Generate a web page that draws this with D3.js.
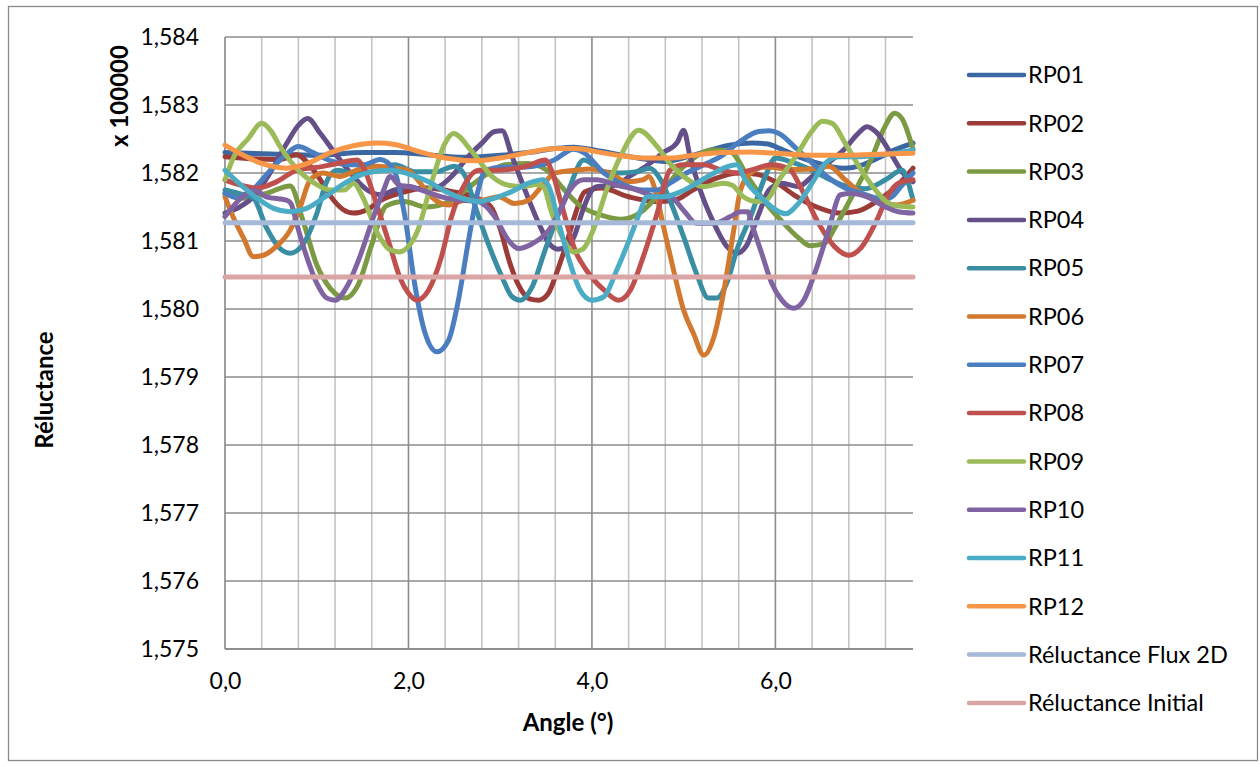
<!DOCTYPE html>
<html>
<head>
<meta charset="utf-8">
<script src="https://cdn.jsdelivr.net/npm/d3@7"></script>
<style>
  html, body { margin: 0; padding: 0; background: #fff; }
  svg { display: block; }
  text { font-family: Lato, "Open Sans", "Liberation Sans", sans-serif; fill: #000; }
</style>
</head>
<body>
<svg id="chart" width="1260" height="767"></svg>
<script>
// ---------------- DATA (values shown in units of x 100000) ----------------
const seriesNames = ["RP01","RP02","RP03","RP04","RP05","RP06","RP07","RP08","RP09","RP10","RP11","RP12","Réluctance Flux 2D","Réluctance Initial"];

const RP01 = [[0,1.5823],[0.5,1.58228],[1.0,1.58226],[1.5,1.5823],[1.85,1.5823],[2.2,1.58227],[2.6,1.58223],[3.0,1.58226],[3.3,1.5823],[3.6,1.58236],[3.8,1.58238],[4.1,1.58232],[4.5,1.58222],[4.8,1.58217],[5.05,1.58224],[5.3,1.58234],[5.5,1.58241],[5.75,1.58244],[5.9,1.58243],[6.05,1.58236],[6.25,1.58224],[6.45,1.58215],[6.75,1.58207],[6.95,1.58212],[7.15,1.58224],[7.3,1.58234],[7.5,1.58244]];
const RP02 = [[0,1.58224],[0.3,1.58221],[0.6,1.5822],[0.78,1.58227],[0.93,1.5821],[1.04,1.5819],[1.15,1.58166],[1.29,1.58146],[1.4,1.58141],[1.55,1.58146],[1.7,1.5816],[1.9,1.5817],[2.2,1.58178],[2.5,1.58172],[2.75,1.58163],[2.9,1.5815],[3.0,1.58118],[3.1,1.5807],[3.2,1.58035],[3.32,1.58015],[3.42,1.58013],[3.52,1.58022],[3.62,1.58055],[3.72,1.58095],[3.82,1.5814],[3.92,1.58172],[4.1,1.58178],[4.4,1.58165],[4.7,1.58158],[4.9,1.5816],[5.1,1.58175],[5.35,1.58192],[5.6,1.582],[5.8,1.58198],[6.0,1.58187],[6.2,1.58168],[6.45,1.5815],[6.7,1.58141],[6.9,1.58144],[7.1,1.58158],[7.3,1.58178],[7.5,1.58207]];
const RP03 = [[0,1.5817],[0.2,1.58163],[0.45,1.5817],[0.71,1.58181],[0.85,1.5813],[1.0,1.58065],[1.15,1.5803],[1.31,1.58016],[1.45,1.58035],[1.6,1.58095],[1.76,1.58152],[1.95,1.58158],[2.2,1.5815],[2.45,1.58158],[2.65,1.58178],[2.85,1.58198],[3.05,1.58212],[3.3,1.58214],[3.5,1.58205],[3.7,1.58175],[3.87,1.58152],[4.1,1.58138],[4.32,1.58132],[4.54,1.58143],[4.75,1.58172],[5.02,1.58212],[5.31,1.58234],[5.5,1.58232],[5.71,1.58192],[5.9,1.58155],[6.05,1.58132],[6.25,1.58105],[6.38,1.58093],[6.53,1.58096],[6.65,1.5812],[6.78,1.58152],[7.05,1.58222],[7.2,1.5827],[7.3,1.58288],[7.38,1.5828],[7.5,1.58235]];
const RP04 = [[0,1.58141],[0.16,1.5815],[0.31,1.58165],[0.49,1.582],[0.67,1.58243],[0.8,1.5827],[0.9,1.5828],[1.04,1.58258],[1.2,1.58229],[1.4,1.58195],[1.55,1.58175],[1.7,1.58168],[1.85,1.58175],[2.0,1.5818],[2.15,1.58176],[2.33,1.5818],[2.47,1.58195],[2.65,1.58224],[2.8,1.58244],[2.94,1.58261],[3.02,1.58262],[3.13,1.58224],[3.27,1.58175],[3.42,1.58126],[3.53,1.58097],[3.63,1.58088],[3.72,1.58092],[3.8,1.58105],[3.9,1.58145],[3.97,1.58168],[4.05,1.5818],[4.25,1.58182],[4.42,1.58196],[4.6,1.58211],[4.78,1.5823],[4.93,1.58245],[5.0,1.58263],[5.07,1.58224],[5.18,1.58175],[5.33,1.58126],[5.47,1.58092],[5.58,1.58082],[5.68,1.58092],[5.82,1.5814],[5.93,1.58175],[6.07,1.58185],[6.25,1.5818],[6.4,1.58195],[6.58,1.58215],[6.76,1.58236],[6.9,1.58258],[7.0,1.58268],[7.1,1.5826],[7.27,1.58226],[7.38,1.58202],[7.5,1.58187]];
const RP05 = [[0,1.58175],[0.15,1.5817],[0.31,1.58163],[0.45,1.5812],[0.6,1.58089],[0.71,1.58082],[0.85,1.58095],[1.0,1.5814],[1.1,1.58185],[1.22,1.58204],[1.4,1.582],[1.62,1.58202],[1.85,1.58212],[2.07,1.58202],[2.3,1.58202],[2.5,1.5821],[2.62,1.58195],[2.73,1.5815],[2.87,1.58096],[3.02,1.58047],[3.13,1.58018],[3.22,1.58013],[3.35,1.58033],[3.49,1.58087],[3.64,1.58141],[3.74,1.58173],[3.91,1.58219],[4.13,1.58202],[4.31,1.582],[4.49,1.58202],[4.63,1.58207],[4.74,1.58192],[4.85,1.5816],[5.0,1.58106],[5.14,1.58052],[5.27,1.58016],[5.36,1.58016],[5.47,1.58038],[5.58,1.58087],[5.73,1.58136],[5.89,1.58195],[6.0,1.58222],[6.18,1.58216],[6.4,1.58204],[6.6,1.5819],[6.76,1.58181],[6.98,1.58177],[7.2,1.5819],[7.38,1.58204],[7.45,1.58185],[7.5,1.5816]];
const RP06 = [[0,1.58165],[0.09,1.58135],[0.2,1.58105],[0.31,1.58077],[0.42,1.58079],[0.56,1.58092],[0.71,1.58116],[0.82,1.5815],[0.93,1.5819],[1.07,1.582],[1.25,1.58195],[1.45,1.58205],[1.65,1.5821],[1.85,1.58207],[2.0,1.58204],[2.1,1.5819],[2.25,1.58165],[2.44,1.58153],[2.62,1.5816],[2.8,1.5816],[2.98,1.58165],[3.16,1.58155],[3.31,1.5816],[3.45,1.5818],[3.6,1.582],[3.82,1.58204],[3.98,1.58206],[4.2,1.58199],[4.38,1.58187],[4.56,1.5819],[4.62,1.58195],[4.7,1.5817],[4.78,1.58121],[4.89,1.58057],[5.0,1.57998],[5.11,1.57963],[5.22,1.57932],[5.33,1.57959],[5.44,1.58028],[5.54,1.58111],[5.62,1.58175],[5.73,1.582],[5.9,1.58209],[6.04,1.58207],[6.25,1.58205],[6.45,1.58207],[6.58,1.5821],[6.76,1.5819],[6.94,1.5817],[7.13,1.5816],[7.31,1.58153],[7.5,1.5816]];
const RP07 = [[0,1.5817],[0.15,1.58163],[0.3,1.58175],[0.5,1.58205],[0.67,1.58228],[0.8,1.58239],[0.96,1.5823],[1.15,1.58218],[1.33,1.58212],[1.51,1.58212],[1.69,1.5822],[1.84,1.58205],[1.96,1.58137],[2.07,1.58035],[2.18,1.57965],[2.31,1.57937],[2.44,1.57955],[2.54,1.5801],[2.65,1.58097],[2.76,1.58175],[2.84,1.58204],[3.02,1.58209],[3.2,1.58208],[3.45,1.58212],[3.6,1.5822],[3.8,1.58235],[3.91,1.5823],[4.13,1.582],[4.34,1.58183],[4.56,1.58175],[4.71,1.58175],[4.85,1.58185],[5.03,1.582],[5.22,1.58212],[5.4,1.58224],[5.6,1.58245],[5.82,1.58261],[5.93,1.58262],[6.04,1.58258],[6.22,1.58237],[6.4,1.58215],[6.58,1.58193],[6.76,1.58178],[6.94,1.5817],[7.13,1.58163],[7.24,1.58163],[7.38,1.58182],[7.5,1.582]];
const RP08 = [[0,1.5819],[0.15,1.58183],[0.35,1.58178],[0.56,1.58187],[0.78,1.58204],[1.04,1.58209],[1.22,1.58214],[1.44,1.58219],[1.52,1.58205],[1.65,1.58155],[1.8,1.58092],[1.91,1.58045],[2.0,1.58023],[2.09,1.58013],[2.22,1.58028],[2.36,1.58077],[2.47,1.58136],[2.62,1.58185],[2.76,1.58204],[2.94,1.58204],[3.13,1.58206],[3.31,1.58211],[3.49,1.58219],[3.57,1.582],[3.67,1.58153],[3.82,1.58085],[3.94,1.58057],[4.13,1.58028],[4.29,1.58013],[4.42,1.58028],[4.56,1.58077],[4.71,1.5814],[4.85,1.58204],[5.0,1.58212],[5.22,1.58212],[5.4,1.58205],[5.58,1.582],[5.75,1.58205],[5.95,1.58212],[6.15,1.58206],[6.29,1.58175],[6.47,1.58126],[6.65,1.58091],[6.8,1.58079],[6.94,1.58091],[7.09,1.58126],[7.24,1.5817],[7.34,1.58185],[7.5,1.5819]];
const RP09 = [[0,1.5819],[0.1,1.58225],[0.25,1.5825],[0.4,1.58273],[0.5,1.58262],[0.6,1.58239],[0.8,1.58204],[1.0,1.58183],[1.15,1.58175],[1.3,1.58175],[1.4,1.58185],[1.5,1.58165],[1.65,1.58115],[1.8,1.58087],[1.9,1.58084],[2.0,1.58092],[2.1,1.58115],[2.25,1.58185],[2.4,1.58244],[2.49,1.58258],[2.69,1.58232],[2.91,1.58195],[3.09,1.58182],[3.25,1.5818],[3.4,1.58183],[3.47,1.5818],[3.56,1.58142],[3.68,1.58105],[3.8,1.58084],[3.9,1.58088],[4.02,1.58118],[4.16,1.58175],[4.31,1.58224],[4.51,1.58263],[4.71,1.58239],[4.85,1.58214],[5.0,1.58195],[5.22,1.5818],[5.43,1.58185],[5.53,1.58182],[5.65,1.58165],[5.8,1.58158],[5.9,1.5816],[6.04,1.5819],[6.22,1.58224],[6.4,1.58262],[6.51,1.58276],[6.62,1.58273],[6.76,1.58244],[6.91,1.5821],[7.09,1.58175],[7.27,1.58153],[7.5,1.5815]];
const RP10 = [[0,1.58136],[0.15,1.5816],[0.31,1.58175],[0.45,1.58165],[0.67,1.5816],[0.72,1.58155],[0.78,1.58126],[0.89,1.58077],[1.0,1.58038],[1.11,1.58016],[1.2,1.58013],[1.33,1.58033],[1.47,1.58077],[1.62,1.58136],[1.73,1.58175],[1.8,1.58195],[1.9,1.58182],[2.0,1.5818],[2.14,1.58175],[2.36,1.58165],[2.58,1.5816],[2.76,1.58158],[2.94,1.58136],[3.09,1.58101],[3.2,1.58089],[3.35,1.58096],[3.53,1.58116],[3.67,1.5815],[3.76,1.58175],[3.91,1.5819],[4.05,1.5819],[4.27,1.58182],[4.49,1.58175],[4.71,1.58165],[4.85,1.58165],[5.0,1.58145],[5.14,1.58126],[5.33,1.58126],[5.51,1.58136],[5.62,1.58143],[5.7,1.58143],[5.74,1.58126],[5.85,1.58082],[5.96,1.58038],[6.07,1.58013],[6.2,1.58001],[6.31,1.58013],[6.44,1.58057],[6.58,1.58116],[6.71,1.58168],[6.83,1.5817],[7.0,1.58165],[7.2,1.5815],[7.34,1.58143],[7.5,1.58141]];
const RP11 = [[0,1.58204],[0.16,1.58184],[0.35,1.58163],[0.53,1.58148],[0.71,1.58143],[0.89,1.58148],[1.07,1.58163],[1.25,1.5818],[1.44,1.58195],[1.62,1.58202],[1.8,1.58204],[2.04,1.58197],[2.22,1.58187],[2.4,1.58173],[2.58,1.58163],[2.76,1.58158],[2.94,1.58163],[3.13,1.58173],[3.31,1.58185],[3.47,1.5819],[3.53,1.5818],[3.64,1.58126],[3.74,1.58077],[3.87,1.58028],[4.0,1.58013],[4.13,1.58018],[4.27,1.58057],[4.42,1.58106],[4.53,1.58145],[4.6,1.58165],[4.78,1.58165],[4.96,1.58172],[5.14,1.58185],[5.33,1.582],[5.47,1.58209],[5.58,1.58212],[5.67,1.5819],[5.85,1.58163],[6.04,1.58143],[6.11,1.5814],[6.25,1.58155],[6.4,1.58185],[6.54,1.58214],[6.69,1.58224],[6.9,1.58224],[7.1,1.58226],[7.31,1.58229],[7.5,1.58234]];
const RP12 = [[0,1.58241],[0.2,1.58226],[0.4,1.58214],[0.67,1.58207],[0.9,1.58214],[1.15,1.5823],[1.4,1.5824],[1.65,1.58244],[1.85,1.58242],[2.1,1.58232],[2.4,1.58222],[2.73,1.58218],[3.0,1.58222],[3.3,1.5823],[3.6,1.58236],[3.82,1.58236],[4.1,1.5823],[4.4,1.58224],[4.6,1.58222],[4.85,1.58222],[5.1,1.58226],[5.4,1.5823],[5.73,1.58231],[6.0,1.58229],[6.4,1.58226],[6.8,1.58226],[7.2,1.58228],[7.5,1.58229]];
const fluxRange = [0, 7.5];
const fluxValue = 1.58127;      // Réluctance Flux 2D
const initialValue = 1.58047;   // Réluctance Initial

const yTicks = [1.575,1.576,1.577,1.578,1.579,1.580,1.581,1.582,1.583,1.584];
const xLabelTicks = [0, 2, 4, 6];
const xMinorTicks = [0.4,0.8,1.2,1.6,2.4,2.8,3.2,3.6,4.4,4.8,5.2,5.6,6.4,6.8,7.2];
const xMajorTicks = [2, 4, 6];

// ---------------- STYLE ----------------
const colors = ["#3B68A2","#9C3C39","#7C9A44","#654F88","#3A8EA3","#D3792F","#4A7EC0","#C0504D","#9BBB59","#8064A2","#4BACC6","#F79646","#A6B9D8","#D9A6A5"];

const seriesData = [RP01,RP02,RP03,RP04,RP05,RP06,RP07,RP08,RP09,RP10,RP11,RP12,
  fluxRange.map(a => [a, fluxValue]),
  fluxRange.map(a => [a, initialValue])];

const svg = d3.select("#chart");
const x = d3.scaleLinear().domain([0, 7.5]).range([225, 913]);
const y = d3.scaleLinear().domain([1.575, 1.584]).range([649, 37]);

const loc = d3.formatLocale({decimal: ",", thousands: " ", grouping: [3], currency: ["", " €"]});
const fmtY = loc.format(".3f");
const fmtX = loc.format(".1f");

// outer border
svg.append("rect").attr("x", 8.5).attr("y", 6.5).attr("width", 1249).attr("height", 754)
  .attr("fill", "#fff").attr("stroke", "#8a8a8a").attr("stroke-width", 1.3);

// gridlines
const grid = svg.append("g");
grid.selectAll(".vminor").data(xMinorTicks).join("line")
  .attr("x1", d => x(d)).attr("x2", d => x(d)).attr("y1", y(1.584)).attr("y2", y(1.575))
  .attr("stroke", "#c4c4c4").attr("stroke-width", 1.6);
grid.selectAll(".hgrid").data(yTicks).join("line")
  .attr("x1", x(0)).attr("x2", x(7.5)).attr("y1", d => y(d)).attr("y2", d => y(d))
  .attr("stroke", "#8c8c8c").attr("stroke-width", 1.6);
grid.selectAll(".vmajor").data(xMajorTicks).join("line")
  .attr("x1", d => x(d)).attr("x2", d => x(d)).attr("y1", y(1.584)).attr("y2", y(1.575))
  .attr("stroke", "#8c8c8c").attr("stroke-width", 1.6);

// axis lines
svg.append("line").attr("x1", x(0)).attr("x2", x(0)).attr("y1", y(1.584)).attr("y2", y(1.575))
  .attr("stroke", "#868686").attr("stroke-width", 1.6);
svg.append("line").attr("x1", x(0)).attr("x2", x(7.5)).attr("y1", y(1.575)).attr("y2", y(1.575))
  .attr("stroke", "#868686").attr("stroke-width", 1.6);

// axis labels via d3 axes (domain/ticks hidden, only text)
const yAxis = d3.axisLeft(y).tickValues(yTicks).tickFormat(fmtY).tickSize(0).tickPadding(26);
const gy = svg.append("g").attr("transform", `translate(${x(0)},0)`).call(yAxis);
gy.select(".domain").remove();
gy.selectAll("text").style("font-size", "23px").style("font-family", "Lato, sans-serif").attr("fill", "#000");

const xAxis = d3.axisBottom(x).tickValues(xLabelTicks).tickFormat(fmtX).tickSize(0).tickPadding(24);
const gx = svg.append("g").attr("transform", `translate(0,${y(1.575)})`).call(xAxis);
gx.select(".domain").remove();
gx.selectAll("text").style("font-size", "23px").style("font-family", "Lato, sans-serif").attr("fill", "#000");

// axis titles
svg.append("text").attr("x", 568).attr("y", 731).attr("text-anchor", "middle")
  .style("font-size", "24px").style("font-weight", "bold").text("Angle (°)");
svg.append("text").attr("transform", "translate(53,390) rotate(-90)").attr("text-anchor", "middle")
  .style("font-size", "24px").style("font-weight", "bold").text("Réluctance");
svg.append("text").attr("transform", "translate(128,96) rotate(-90)").attr("text-anchor", "middle")
  .style("font-size", "24px").style("font-weight", "bold").text("x 100000");

// series lines
const line = d3.line().x(d => x(d[0])).y(d => y(d[1])).curve(d3.curveMonotoneX);
svg.append("g").selectAll("path").data(seriesData).join("path")
  .attr("d", line)
  .attr("fill", "none")
  .attr("stroke", (d, i) => colors[i])
  .attr("stroke-width", 5)
  .attr("stroke-linejoin", "round")
  .attr("stroke-linecap", "round");

// legend
const legend = svg.append("g");
const rows = legend.selectAll("g").data(seriesNames).join("g")
  .attr("transform", (d, i) => `translate(0,${75 + i * 48.3})`);
rows.append("line").attr("x1", 969).attr("x2", 1024).attr("y1", 0).attr("y2", 0)
  .attr("stroke", (d, i) => colors[i]).attr("stroke-width", 4.5).attr("stroke-linecap", "round");
rows.append("text").attr("x", 1028).attr("y", 0).attr("dy", "0.35em")
  .style("font-size", "23.5px").text(d => d);
</script>
</body>
</html>
